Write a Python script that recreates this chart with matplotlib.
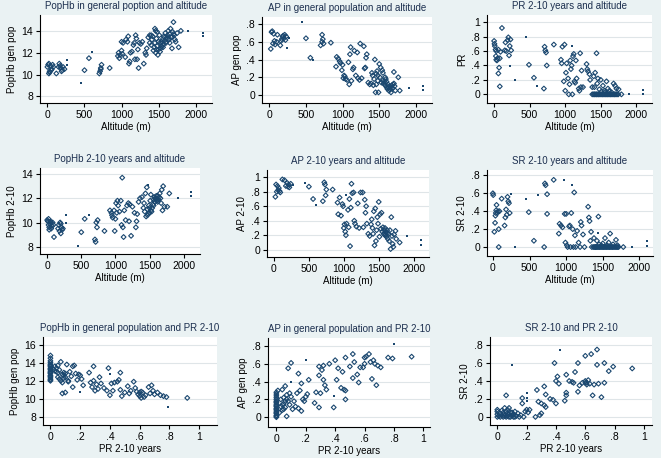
import numpy as np
import matplotlib
matplotlib.use("Agg")
import matplotlib.pyplot as plt
from matplotlib.ticker import FuncFormatter

# --- data (hollow diamonds = pts, small dots = dots) ---

# 1: PopHb general population vs altitude
hb_gen_alt = [(0,10.7),(10,10.9),(20,11.0),(30,10.3),(20,10.1),(40,10.8),(60,10.5),(70,10.9),
              (80,10.7),(30,10.2),(50,10.4),(120,10.1),(160,11.0),(170,10.8),(180,10.6),(200,10.4),
              (210,10.7),(190,10.3),(230,10.5),(150,10.7),(500,10.4),(560,11.5),(700,10.1),
              (710,10.3),(720,10.6),(730,10.9),(720,10.5),(840,10.6),(950,11.7),(960,12.0),
              (970,11.5),(980,11.8),(1000,12.2),(1010,11.9),(1000,13.0),(1020,12.9),(1050,11.6),
              (1060,13.2),(1080,13.0),(1090,13.5),(1100,11.0),(1110,11.2),(1120,12.0),(1140,12.1),
              (1160,12.7),(1170,12.9),(1180,11.4),(1190,13.6),(1200,13.3),(1210,11.4),(1220,12.3),
              (1230,10.6),(1240,12.9),(1260,12.8),(1280,13.0),(1300,11.0),(1320,12.0),(1330,11.8),
              (1340,12.4),(1360,13.4),(1380,13.6),(1400,12.7),(1410,13.2),(1420,13.5),(1430,12.2),
              (1440,12.5),(1450,14.2),(1460,12.0),(1470,13.3),(1480,12.6),(1490,11.8),(1500,12.3),
              (1510,13.6),(1520,12.9),(1530,12.4),(1540,13.0),(1550,13.2),(1560,12.7),(1570,13.5),
              (1580,13.1),(1590,13.8),(1600,12.9),(1610,13.4),(1620,13.6),(1630,14.0),(1640,13.2),
              (1650,13.7),(1660,14.2),(1670,13.4),(1680,12.4),(1690,13.9),(1700,14.8),(1710,13.6),
              (1720,13.2),(1730,13.0),(1750,13.8),(1770,12.5),(1800,14.0),(1480,13.9),(1460,14.0),
              (1520,12.1),(1560,12.5),(1600,13.0),(1450,12.9),(1400,13.6),(1380,12.9),(1620,13.3),
              (1650,12.9),(1680,13.5),(1470,12.3),(1500,13.0),(1540,12.6),(1580,13.4),(1700,13.7)]
hb_gen_alt_dots = [(260,11.3),(270,10.9),(450,9.2),(600,12.1),(1900,14.0),(2100,13.8),(2100,13.5)]

# 2: AP general population vs altitude
ap_gen_alt = [(20,0.52),(30,0.71),(40,0.72),(50,0.58),(60,0.69),(70,0.61),(80,0.57),(100,0.60),
              (110,0.68),(150,0.56),(160,0.61),(170,0.63),(180,0.66),(190,0.67),(200,0.64),
              (210,0.68),(220,0.62),(230,0.66),(500,0.64),(560,0.42),(700,0.56),(720,0.68),
              (730,0.63),(740,0.58),(720,0.60),(840,0.59),(910,0.32),(920,0.43),(940,0.41),
              (960,0.38),(970,0.36),(990,0.28),(1000,0.34),(1010,0.19),(1020,0.22),(1030,0.21),
              (1040,0.18),(1060,0.17),(1080,0.37),(1090,0.12),(1100,0.46),(1110,0.54),(1120,0.16),
              (1140,0.29),(1150,0.31),(1160,0.50),(1180,0.22),(1200,0.48),(1210,0.19),(1230,0.17),
              (1240,0.58),(1260,0.19),(1290,0.55),(1300,0.30),(1310,0.31),(1320,0.42),(1330,0.46),
              (1350,0.14),(1370,0.12),(1390,0.13),(1400,0.25),(1410,0.22),(1420,0.11),(1430,0.18),
              (1440,0.40),(1450,0.03),(1460,0.24),(1470,0.27),(1480,0.16),(1490,0.03),(1500,0.35),
              (1510,0.20),(1520,0.31),(1530,0.14),(1540,0.28),(1550,0.16),(1560,0.13),(1570,0.15),
              (1580,0.11),(1590,0.18),(1600,0.09),(1610,0.07),(1620,0.12),(1630,0.05),(1640,0.10),
              (1650,0.06),(1660,0.03),(1670,0.11),(1680,0.08),(1690,0.12),(1700,0.26),(1710,0.10),
              (1720,0.05),(1760,0.20),(1780,0.05),(1480,0.22),(1460,0.12),(1550,0.25),(1600,0.15),
              (1580,0.20),(1650,0.08),(1700,0.13),(1620,0.09)]
ap_gen_alt_dots = [(240,0.53),(270,0.64),(450,0.82),(600,0.40),(1900,0.08),(2100,0.10),(2100,0.06)]

# 3: PR 2-10 vs altitude
pr_alt = [(0,0.74),(5,0.70),(10,0.67),(20,0.62),(30,0.60),(25,0.53),(30,0.48),(40,0.47),(50,0.50),
          (60,0.62),(60,0.29),(70,0.37),(80,0.11),(80,0.50),(90,0.59),(110,0.92),(150,0.61),
          (160,0.72),(170,0.60),(190,0.75),(200,0.79),(210,0.54),(220,0.67),(230,0.76),(240,0.61),
          (490,0.41),(560,0.23),(700,0.08),(710,0.66),(720,0.61),(730,0.58),(740,0.40),(840,0.69),
          (940,0.48),(950,0.43),(960,0.66),(980,0.18),(990,0.69),(1000,0.05),(1010,0.30),
          (1020,0.43),(1040,0.22),(1050,0.00),(1060,0.14),(1070,0.47),(1080,0.35),(1090,0.40),
          (1100,0.00),(1110,0.53),(1120,0.56),(1130,0.18),(1140,0.16),(1150,0.47),(1160,0.22),
          (1190,0.08),(1200,0.05),(1210,0.57),(1220,0.10),(1230,0.33),(1250,0.10),(1300,0.42),
          (1310,0.35),(1320,0.32),(1340,0.28),(1350,0.20),(1380,0.10),(1400,0.25),(1410,0.10),
          (1420,0.30),(1440,0.57),(1450,0.15),(1460,0.22),(1480,0.07),(1500,0.20),(1510,0.04),
          (1530,0.12),(1550,0.05),(1560,0.03),(1580,0.18),(1600,0.08),(1620,0.05),(1650,0.03),
          (1680,0.15),(1700,0.12),(1720,0.08),(1750,0.07),(1790,0.00)]
pr_alt_zero = [1380,1395,1410,1420,1435,1445,1460,1470,1485,1500,1515,1525,1540,1555,1565,1580,
               1595,1605,1620,1635,1645,1660,1675,1690,1700,1715,1730,1745]
pr_alt_dots = [(230,0.39),(290,0.20),(450,0.80),(610,0.12),(1100,0.67),(1900,0.0),(2100,0.06),(2100,0.01)]

# 4: PopHb 2-10 vs altitude
hb_210_alt = [(0,10.2),(10,10.1),(20,10.3),(30,9.6),(40,9.9),(50,10.1),(60,9.5),(70,9.7),(80,10.0),
              (90,9.8),(100,8.8),(30,9.4),(50,10.0),(20,9.8),(160,9.5),(170,9.8),(180,9.3),
              (190,10.0),(200,9.1),(210,9.6),(220,9.4),(230,9.5),(200,9.9),(500,9.2),(550,10.3),
              (700,8.6),(710,8.4),(720,10.0),(730,9.6),(740,10.2),(840,9.3),(920,11.0),(940,10.8),
              (950,10.6),(960,10.4),(980,11.0),(990,9.3),(1000,10.3),(1010,11.6),(1020,10.8),
              (1030,11.8),(1040,11.4),(1060,10.9),(1080,11.8),(1090,9.8),(1100,13.7),(1110,9.6),
              (1120,8.8),(1130,11.0),(1150,10.2),(1170,11.4),(1190,11.6),(1200,10.1),(1210,11.5),
              (1230,8.9),(1250,11.3),(1280,10.8),(1300,9.6),(1310,10.1),(1320,10.7),(1340,11.7),
              (1360,12.0),(1390,12.1),(1410,11.2),(1420,11.6),(1430,10.9),(1440,12.4),(1450,10.5),
              (1460,12.9),(1470,11.1),(1480,10.7),(1490,11.4),(1500,10.8),(1510,11.8),(1520,12.3),
              (1530,10.9),(1540,11.2),(1550,11.5),(1560,11.9),(1570,12.1),(1580,11.7),(1590,11.9),
              (1600,12.0),(1610,11.8),(1620,12.2),(1630,11.9),(1640,12.1),(1650,12.4),(1660,12.0),
              (1670,11.6),(1680,12.7),(1690,11.0),(1700,13.0),(1720,11.3),(1760,11.3),(1790,12.4),
              (1500,11.2),(1560,11.4),(1620,11.7),(1470,10.6),(1520,11.0),(1600,12.2)]
hb_210_alt_dots = [(270,10.6),(280,10.0),(450,8.1),(620,10.6),(1480,13.1),(1920,12.0),(2110,12.5),(2110,12.2)]

# 5: AP 2-10 vs altitude
ap_210_alt = [(20,0.73),(30,0.90),(40,0.80),(50,0.88),(60,0.82),(70,0.85),(80,0.81),(90,0.79),
              (120,0.97),(150,0.96),(170,0.88),(190,0.92),(200,0.87),(210,0.90),(220,0.86),
              (240,0.91),(500,0.87),(560,0.70),(700,0.67),(720,0.93),(730,0.90),(740,0.75),
              (750,0.83),(840,0.83),(910,0.65),(920,0.49),(940,0.72),(960,0.47),(980,0.63),
              (990,0.60),(1000,0.30),(1010,0.35),(1020,0.25),(1030,0.20),(1040,0.36),(1060,0.55),
              (1070,0.31),(1080,0.70),(1090,0.05),(1100,0.58),(1110,0.91),(1120,0.78),(1140,0.79),
              (1150,0.40),(1160,0.36),(1180,0.32),(1200,0.64),(1220,0.30),(1240,0.79),(1270,0.79),
              (1280,0.31),(1300,0.69),(1310,0.51),(1320,0.60),(1330,0.36),(1350,0.22),(1370,0.19),
              (1390,0.35),(1400,0.42),(1410,0.30),(1420,0.22),(1430,0.53),(1440,0.06),(1450,0.57),
              (1460,0.12),(1470,0.27),(1480,0.45),(1490,0.36),(1500,0.66),(1510,0.18),(1520,0.49),
              (1530,0.29),(1540,0.51),(1550,0.25),(1560,0.31),(1570,0.22),(1580,0.27),(1590,0.20),
              (1600,0.24),(1610,0.18),(1620,0.27),(1630,0.15),(1640,0.22),(1650,0.12),(1660,0.27),
              (1670,0.01),(1680,0.45),(1690,0.19),(1700,0.08),(1710,0.04),(1720,0.21),(1740,0.26),
              (1750,0.15),(1800,0.10),(1590,0.30),(1600,0.21),(1620,0.23)]
ap_210_alt_dots = [(270,0.90),(450,0.92),(600,0.62),(1030,0.75),(1900,0.19),(2100,0.14),(2100,0.06)]

# 6: SR 2-10 vs altitude
sr_alt = [(0,0.60),(5,0.58),(20,0.17),(30,0.27),(35,0.35),(40,0.38),(45,0.41),(50,0.47),(60,0.38),
          (70,0.40),(80,0.20),(80,0.00),(90,0.40),(120,0.54),(160,0.24),(170,0.33),(180,0.42),
          (190,0.36),(200,0.56),(210,0.51),(220,0.49),(230,0.38),(490,0.39),(560,0.07),(700,0.00),
          (710,0.71),(720,0.69),(740,0.59),(740,0.37),(830,0.75),(900,0.15),(910,0.26),(930,0.24),
          (950,0.22),(980,0.37),(990,0.05),(1000,0.37),(1010,0.02),(1020,0.00),(1040,0.23),
          (1050,0.24),(1060,0.00),(1070,0.38),(1090,0.20),(1100,0.00),(1110,0.61),(1120,0.13),
          (1130,0.00),(1150,0.18),(1170,0.05),(1190,0.00),(1200,0.28),(1210,0.24),(1230,0.14),
          (1250,0.00),(1300,0.45),(1310,0.33),(1320,0.29),(1330,0.07),(1340,0.17),(1350,0.00),
          (1380,0.10),(1400,0.00),(1420,0.07),(1440,0.34),(1450,0.03),(1480,0.02),(1500,0.04),
          (1530,0.10),(1560,0.02),(1580,0.05),(1600,0.15),(1640,0.03),(1680,0.08),(1700,0.02),
          (1780,0.00)]
sr_alt_zero = [1370,1385,1400,1415,1425,1440,1455,1465,1480,1495,1510,1520,1535,1550,1560,1575,
               1590,1600,1615,1630,1640,1655,1670,1685,1700,1715]
sr_alt_dots = [(250,0.59),(300,0.0),(450,0.54),(610,0.58),(970,0.75),(1080,0.69),(1440,0.16),
               (1900,0.0),(2100,0.07),(2100,0.01)]

# 7: PopHb general population vs PR 2-10
hb_gen_pr = [(0.02,13.3),(0.03,13.6),(0.04,13.0),(0.04,13.4),(0.05,13.7),(0.05,12.4),(0.06,13.2),
             (0.06,12.2),(0.07,14.1),(0.07,12.0),(0.08,11.8),(0.08,12.7),(0.09,12.9),(0.09,12.3),
             (0.1,12.8),(0.1,12.4),(0.11,13.8),(0.12,12.0),(0.12,11.9),(0.08,10.6),(0.1,10.7),
             (0.13,13.0),(0.14,12.5),(0.15,13.6),(0.16,13.7),(0.17,12.8),(0.18,12.1),(0.19,12.7),
             (0.2,12.6),(0.21,12.2),(0.22,11.5),(0.15,11.3),(0.26,12.9),(0.27,11.8),(0.28,11.3),
             (0.29,13.6),(0.29,12.0),(0.3,10.9),(0.31,11.6),(0.32,11.1),(0.33,12.4),(0.34,11.7),
             (0.36,11.2),(0.38,10.9),(0.39,13.4),(0.4,10.4),(0.41,11.7),(0.42,10.9),(0.43,11.8),
             (0.45,11.9),(0.46,12.1),(0.47,12.9),(0.47,11.0),(0.48,10.3),(0.5,10.7),(0.52,11.4),
             (0.53,10.6),(0.54,10.9),(0.56,11.9),(0.57,11.2),(0.58,10.8),(0.59,10.5),(0.6,10.7),
             (0.6,10.3),(0.61,10.1),(0.62,10.7),(0.63,10.2),(0.64,10.4),(0.66,11.3),(0.67,10.6),
             (0.68,11.5),(0.69,10.9),(0.7,10.5),(0.72,10.7),(0.74,10.4),(0.76,10.3),(0.78,10.2),
             (0.92,10.1),(0.03,13.1),(0.05,12.9),(0.09,12.6),(0.61,10.8)]
hb_gen_pr_zero = [12.0,12.2,12.4,12.6,12.8,13.0,13.2,13.4,13.6,13.8,14.0,14.2,14.5,14.8,12.1,12.5,
                  12.9,13.3,13.7]
hb_gen_pr_dots = [(0.2,10.8),(0.4,12.8),(0.79,9.1)]

# 8: AP general population vs PR 2-10
ap_gen_pr = [(0.01,0.30),(0.02,0.05),(0.03,0.20),(0.03,0.12),(0.04,0.31),(0.04,0.08),(0.05,0.15),
             (0.05,0.22),(0.06,0.18),(0.06,0.11),(0.06,0.35),(0.07,0.01),(0.07,0.25),(0.08,0.55),
             (0.08,0.18),(0.09,0.27),(0.1,0.61),(0.1,0.23),(0.11,0.09),(0.12,0.18),(0.13,0.12),
             (0.14,0.27),(0.15,0.49),(0.15,0.10),(0.16,0.30),(0.17,0.07),(0.17,0.38),(0.18,0.20),
             (0.19,0.18),(0.2,0.23),(0.21,0.26),(0.22,0.42),(0.26,0.16),(0.27,0.28),(0.29,0.11),
             (0.29,0.47),(0.29,0.57),(0.3,0.27),(0.31,0.53),(0.32,0.58),(0.32,0.42),(0.33,0.36),
             (0.34,0.31),(0.36,0.60),(0.39,0.11),(0.4,0.64),(0.41,0.42),(0.42,0.55),(0.44,0.33),
             (0.45,0.51),(0.46,0.31),(0.47,0.20),(0.47,0.67),(0.47,0.30),(0.5,0.57),(0.52,0.44),
             (0.52,0.71),(0.53,0.62),(0.55,0.48),(0.56,0.39),(0.57,0.56),(0.59,0.56),(0.6,0.67),
             (0.61,0.68),(0.6,0.60),(0.63,0.71),(0.64,0.62),(0.65,0.43),(0.66,0.64),(0.67,0.60),
             (0.68,0.36),(0.69,0.58),(0.71,0.56),(0.76,0.67),(0.79,0.66),(0.92,0.68),(0.04,0.14),
             (0.05,0.09),(0.07,0.20),(0.09,0.14)]
ap_gen_pr_zero = [0.0,0.02,0.04,0.06,0.08,0.10,0.12,0.14,0.16,0.18,0.20,0.22,0.24,0.26,0.28,
                  0.01,0.05,0.09,0.13,0.17]
ap_gen_pr_dots = [(0.1,0.40),(0.2,0.64),(0.39,0.24),(0.8,0.82)]

# 9: SR 2-10 vs PR 2-10
sr_pr = [(0,0.0),(0,0.03),(0,0.06),(0,0.08),(0.01,0.01),(0.02,0.0),(0.03,0.02),(0.04,0.0),
         (0.05,0.03),(0.05,0.10),(0.06,0.0),(0.06,0.24),(0.07,0.01),(0.07,0.08),(0.08,0.03),
         (0.08,0.10),(0.09,0.0),(0.1,0.05),(0.1,0.02),(0.11,0.0),(0.12,0.06),(0.13,0.01),
         (0.14,0.04),(0.15,0.0),(0.16,0.02),(0.17,0.15),(0.17,0.21),(0.18,0.00),(0.19,0.06),
         (0.2,0.08),(0.21,0.05),(0.22,0.08),(0.26,0.00),(0.27,0.30),(0.28,0.17),(0.29,0.02),
         (0.3,0.04),(0.3,0.15),(0.32,0.34),(0.32,0.13),(0.33,0.11),(0.33,0.25),(0.36,0.20),
         (0.38,0.19),(0.39,0.60),(0.4,0.40),(0.4,0.15),(0.41,0.45),(0.42,0.37),(0.46,0.18),
         (0.47,0.27),(0.47,0.24),(0.47,0.47),(0.49,0.40),(0.51,0.39),(0.52,0.38),(0.53,0.50),
         (0.55,0.28),(0.55,0.60),(0.56,0.35),(0.58,0.38),(0.6,0.68),(0.6,0.40),(0.61,0.38),
         (0.62,0.41),(0.63,0.37),(0.64,0.70),(0.65,0.24),(0.66,0.36),(0.68,0.75),(0.68,0.58),
         (0.69,0.37),(0.71,0.22),(0.73,0.60),(0.73,0.38),(0.76,0.51),(0.79,0.56),(0.92,0.54),
         (0.02,0.04),(0.03,0.07),(0.04,0.05),(0.05,0.01),(0.06,0.06),(0.07,0.04),(0.08,0.0),
         (0.09,0.05),(0.11,0.03),(0.12,0.0),(0.6,0.38),(0.61,0.36)]
sr_pr_dots = [(0.1,0.58),(0.2,0.27),(0.2,0.21),(0.2,0.18),(0.43,0.75)]

NAVY = "#1a476f"
BG = "#eaf2f3"

def dec_fmt(v, pos):
    s = f"{v:g}"
    return s.replace("0.", ".") if s.startswith("0.") else s

def panel(rect, pts, dots, title, ylab, xlab, xlim, ylim, xticks, yticks):
    ax = fig.add_axes(rect)
    ax.set_facecolor("white")
    p = np.array(pts, dtype=float)
    ax.scatter(p[:, 0], p[:, 1], marker="D", s=6, facecolors="none",
               edgecolors=NAVY, linewidths=0.8, zorder=3)
    if dots:
        d = np.array(dots, dtype=float)
        ax.scatter(d[:, 0], d[:, 1], marker="s", s=1.2, color=NAVY, linewidths=0, zorder=3)
    ax.set_xlim(*xlim)
    ax.set_ylim(*ylim)
    ax.set_xticks(xticks)
    ax.set_yticks(yticks)
    ax.xaxis.set_major_formatter(FuncFormatter(dec_fmt))
    ax.yaxis.set_major_formatter(FuncFormatter(dec_fmt))
    ax.grid(axis="y", color="#dfe5e8", linewidth=0.8)
    ax.set_axisbelow(True)
    for s in ("top", "right"):
        ax.spines[s].set_visible(False)
    for s in ("left", "bottom"):
        ax.spines[s].set_color("black")
        ax.spines[s].set_linewidth(0.8)
    ax.tick_params(labelsize=7.5, length=3, width=0.8, pad=2)
    ax.set_title(title, fontsize=7, color="#1c2f4f", pad=4)
    ax.set_ylabel(ylab, fontsize=7, labelpad=3)
    ax.set_xlabel(xlab, fontsize=7, labelpad=1.5)
    return ax

def rect(x0, y0, x1, y1):
    return [x0 / 661, 1 - y1 / 458, (x1 - x0) / 661, (y1 - y0) / 458]

plt.rcParams["font.family"] = ["Liberation Sans", "DejaVu Sans"]
fig = plt.figure(figsize=(6.61, 4.58), dpi=100, facecolor=BG)

alt_ticks = [0, 500, 1000, 1500, 2000]
alt_lim = (-100, 2220)
pr_ticks = [0, 0.2, 0.4, 0.6, 0.8, 1]
p8 = [0, 0.2, 0.4, 0.6, 0.8]

panel(rect(40, 15, 212, 103), hb_gen_alt, hb_gen_alt_dots, "PopHb in general poption and altitude",
      "PopHb gen pop", "Altitude (m)", alt_lim, (7.4, 15.45), alt_ticks, [8, 10, 12, 14])
panel(rect(262, 17, 432, 103), ap_gen_alt, ap_gen_alt_dots, "AP in general population and altitude",
      "AP gen pop", "Altitude (m)", alt_lim, (-0.09, 0.88), alt_ticks, p8)
panel(rect(487, 15, 652, 103),
      pr_alt + [(a, 0.0) for a in pr_alt_zero], pr_alt_dots, "PR 2-10 years and altitude",
      "PR", "Altitude (m)", alt_lim, (-0.12, 1.1), alt_ticks, pr_ticks)

panel(rect(40, 168, 200, 254), hb_210_alt, hb_210_alt_dots, "PopHb 2-10 years and altitude",
      "PopHb 2-10", "Altitude (m)", (-105, 2240), (7.4, 14.5), alt_ticks, [8, 10, 12, 14])
panel(rect(267, 170, 429, 257), ap_210_alt, ap_210_alt_dots, "AP 2-10 years and altitude",
      "AP 2-10", "Altitude (m)", alt_lim, (-0.1, 1.1), alt_ticks, pr_ticks)
panel(rect(487, 170, 653, 256),
      sr_alt + [(a, 0.0) for a in sr_alt_zero], sr_alt_dots, "SR 2-10 years and altitude",
      "SR 2-10", "Altitude (m)", (-80, 2185), (-0.1, 0.86), alt_ticks, p8)

panel(rect(43, 337, 217, 425),
      hb_gen_pr + [(0.0, v) for v in hb_gen_pr_zero], hb_gen_pr_dots,
      "PopHb in general population and PR 2-10", "PopHb gen pop", "PR 2-10 years",
      (-0.05, 1.12), (7.1, 16.85), pr_ticks, [8, 10, 12, 14, 16])
panel(rect(268, 338, 430, 427),
      ap_gen_pr + [(0.0, v) for v in ap_gen_pr_zero], ap_gen_pr_dots,
      "AP in general population and PR 2-10", "AP gen pop", "PR 2-10 years",
      (-0.057, 1.045), (-0.11, 0.89), pr_ticks, p8)
panel(rect(490, 337, 652, 425), sr_pr, sr_pr_dots, "SR 2-10 and PR 2-10",
      "SR 2-10", "PR 2-10 years", (-0.05, 1.055), (-0.09, 0.89), pr_ticks, p8)

fig.savefig("out.png", dpi=100, facecolor=BG)
